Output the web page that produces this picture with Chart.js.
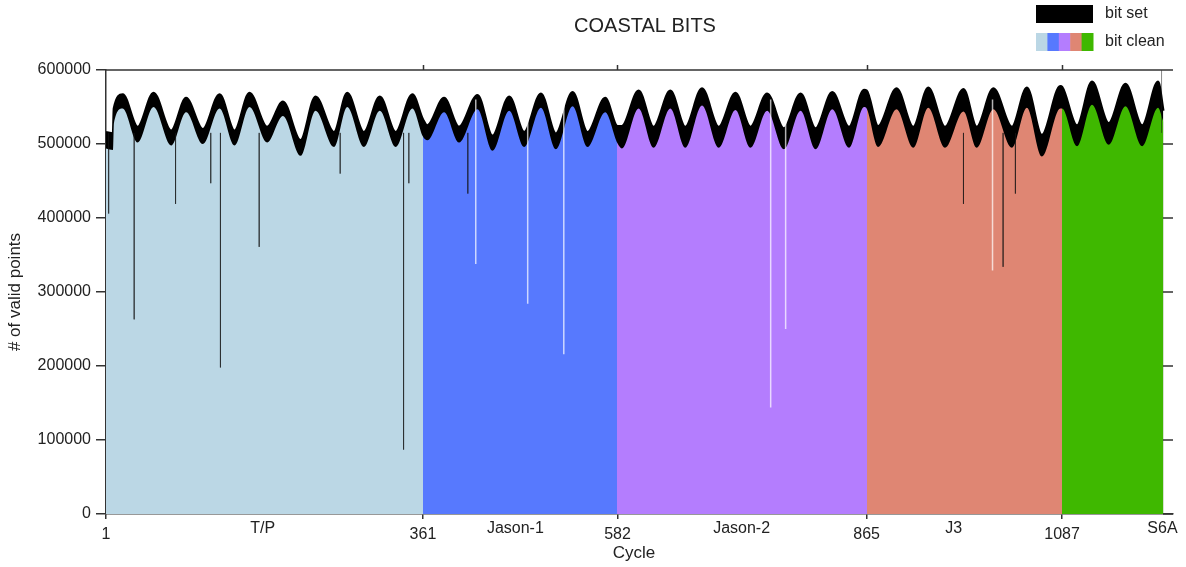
<!DOCTYPE html>
<html>
<head>
<meta charset="utf-8">
<title>COASTAL BITS</title>
<script src="https://cdn.jsdelivr.net/npm/chart.js@4.4.1/dist/chart.umd.min.js"></script>
<style>
  html, body { margin: 0; padding: 0; background: #fff; }
  #wrap { width: 1186px; height: 567px; }
</style>
</head>
<body>
<div id="wrap"><canvas id="bitsChart" width="1186" height="567"></canvas></div>
<script>
// values (peaks / troughs of the yearly cycle)
const cycles = [
  1, 9, 10, 20, 37, 55, 75, 92, 111, 130, 147, 164, 184, 202, 222, 239, 260, 275, 294, 312, 330, 349, 361,
  366, 385, 402, 423, 440, 459, 476, 495, 512, 531, 548, 568, 582,
  587, 606, 623, 642, 659, 678, 697, 716, 733, 752, 771, 790, 807, 826, 845, 862, 865,
  878, 899, 918, 935, 954, 975, 990, 1009, 1030, 1047, 1064, 1085, 1087,
  1104, 1121, 1140, 1159, 1178, 1196, 1202
];
// total valid points (top of the black "bit set" band)
const totalPoints = [
  516000, 514000, 548000, 567000, 523000, 569000, 518000, 562000, 520000, 567000, 518000, 569000, 523000, 557000, 505000, 564000, 516000, 569000, 516000, 564000, 516000, 567000, 533000,
  525000, 562000, 523000, 566000, 511000, 564000, 516000, 568000, 514000, 570000, 516000, 562000, 524000,
  524000, 572000, 523000, 572000, 523000, 575000, 523000, 569000, 523000, 568000, 521000, 568000, 521000, 570000, 523000, 573000, 572000,
  524000, 575000, 523000, 576000, 523000, 574000, 523000, 575000, 523000, 576000, 512000, 578000, 577000,
  525000, 584000, 528000, 581000, 525000, 584000, 545000
];
// points with the coastal bit clean
const cleanPoints = [
  494000, 492000, 528000, 548000, 502000, 550000, 498000, 543000, 500000, 548000, 498000, 550000, 502000, 538000, 484000, 545000, 496000, 550000, 496000, 545000, 496000, 548000, 510000,
  505000, 543000, 502000, 547000, 491000, 545000, 496000, 549000, 493000, 551000, 496000, 543000, 501000,
  494000, 548000, 495000, 548000, 495000, 552000, 495000, 546000, 495000, 545000, 493000, 545000, 493000, 547000, 495000, 550000, 548000,
  496000, 547000, 495000, 549000, 495000, 544000, 495000, 547000, 495000, 549000, 483000, 548000, 548000,
  497000, 553000, 499000, 551000, 497000, 549000, 530000
];

const missionNames = ['T/P', 'Jason-1', 'Jason-2', 'J3', 'S6A'];
const missionStart = [1, 361, 582, 865, 1087];
const missionEnd = [361, 582, 865, 1087, 1202];
const missionLabelAt = [179, 466, 723, 964, 1201];
const missionColors = ['#bbd7e5', '#5779fe', '#b47dfe', '#df8673', '#3fb800'];

const cycleTicks = [1, 361, 582, 865, 1087];
const yTicks = [0, 100000, 200000, 300000, 400000, 500000, 600000];

// single cycles with a drop (dark = clean drops, light = total drops)
const dipCycles = [4, 33, 80, 120, 131, 175, 267, 339, 345, 412, 421, 480, 521, 756, 773, 975, 1008, 1020, 1034, 1200];
const dipLows = [406000, 263000, 419000, 447000, 198000, 361000, 460000, 87000, 447000, 433000, 338000, 284000, 216000, 144000, 250000, 419000, 329000, 334000, 433000, 600000];
const dipLight = [false, false, false, false, false, false, false, false, false, false, true, true, true, true, true, false, true, false, false, false];

const FONT = '"Liberation Sans", Arial, Helvetica, sans-serif';

function dipPoints(light) {
  const pts = [];
  dipCycles.forEach((c, i) => {
    if (dipLight[i] !== light) return;
    pts.push({ x: c, y: light ? 560000 : 515000 }, { x: c, y: dipLows[i] }, { x: c, y: null });
  });
  return pts;
}

// one fill for all missions, coloured by a gradient with hard stops at the hand-overs
function missionFill(context) {
  const chart = context.chart;
  const area = chart.chartArea;
  if (!area || !chart.scales.x) return missionColors[0];
  const x = chart.scales.x;
  const g = chart.ctx.createLinearGradient(area.left, 0, area.right, 0);
  const frac = c => Math.min(1, Math.max(0, (x.getPixelForValue(c) - area.left) / (area.right - area.left)));
  missionColors.forEach((col, i) => {
    g.addColorStop(frac(missionStart[i]), col);
    g.addColorStop(frac(missionEnd[i]), col);
  });
  return g;
}

const datasets = [
  {
    label: 'dips dark', data: dipPoints(false), borderColor: 'rgba(20,20,20,0.5)',
    borderWidth: 1, fill: false, spanGaps: false, tension: 0
  },
  {
    label: 'dips light', data: dipPoints(true), borderColor: 'rgba(255,255,255,0.7)',
    borderWidth: 1.5, fill: false, spanGaps: false, tension: 0
  },
  {
    label: 'bit clean',
    data: cycles.map((c, i) => ({ x: c, y: cleanPoints[i] })),
    borderColor: 'rgba(0,0,0,0)',
    borderWidth: 0,
    backgroundColor: missionFill,
    fill: 'origin',
    cubicInterpolationMode: 'monotone'
  },
  {
    label: 'bit set',
    data: cycles.map((c, i) => ({ x: c, y: totalPoints[i] })),
    borderColor: '#000',
    borderWidth: 2.5,
    backgroundColor: '#000',
    fill: 'origin',
    cubicInterpolationMode: 'monotone'
  }
];

const decorations = {
  id: 'decorations',
  afterDraw(chart) {
    const { ctx, chartArea: a, scales: { x, y } } = chart;
    ctx.save();
    ctx.strokeStyle = '#333';
    ctx.lineWidth = 1.5;
    ctx.beginPath();
    ctx.moveTo(a.left, a.top);
    ctx.lineTo(a.right, a.top);
    cycleTicks.slice(1).forEach(c => {
      const px = Math.round(x.getPixelForValue(c)) + 0.5;
      ctx.moveTo(px, a.top);
      ctx.lineTo(px, a.top - 5);
    });
    yTicks.forEach(v => {
      const py = y.getPixelForValue(v);
      ctx.moveTo(a.right - 10, py);
      ctx.lineTo(a.right, py);
    });
    ctx.stroke();

    ctx.fillStyle = '#222';
    ctx.textAlign = 'center';
    ctx.textBaseline = 'middle';

    // title
    ctx.font = '20px ' + FONT;
    ctx.fillText('COASTAL BITS', 645, 26);

    // mission names under the axis
    ctx.font = '16px ' + FONT;
    missionNames.forEach((name, i) => {
      ctx.fillText(name, x.getPixelForValue(missionLabelAt[i]), 529);
    });

    // axis titles
    ctx.font = '17px ' + FONT;
    ctx.fillText('Cycle', 634, 553);
    ctx.save();
    ctx.translate(15, (a.top + a.bottom) / 2);
    ctx.rotate(-Math.PI / 2);
    ctx.fillText('# of valid points', 0, 0);
    ctx.restore();

    // legend
    ctx.fillStyle = '#000';
    ctx.fillRect(1036, 5, 57, 18);
    const w = 57 / missionColors.length;
    missionColors.forEach((col, i) => {
      ctx.fillStyle = col;
      ctx.fillRect(1036 + i * w, 33, w + 0.5, 18);
    });
    ctx.fillStyle = '#222';
    ctx.textAlign = 'left';
    ctx.font = '16px ' + FONT;
    ctx.fillText('bit set', 1105, 14);
    ctx.fillText('bit clean', 1105, 42);
    ctx.restore();
  }
};

new Chart(document.getElementById('bitsChart').getContext('2d'), {
  type: 'line',
  data: { datasets },
  options: {
    responsive: false,
    animation: false,
    layout: { padding: { top: 70, right: 13, left: 0, bottom: 0 } },
    elements: { point: { radius: 0 } },
    plugins: {
      legend: { display: false },
      tooltip: { enabled: false },
      title: { display: false }
    },
    scales: {
      x: {
        type: 'linear',
        min: 1,
        max: 1213,
        afterBuildTicks: s => { s.ticks = cycleTicks.map(v => ({ value: v })); },
        afterFit: s => { s.height = 53; },
        grid: { drawOnChartArea: false, tickLength: 5, color: '#333', lineWidth: 1.5 },
        border: { color: '#333', width: 1.5 },
        ticks: {
          autoSkip: false, maxRotation: 0, padding: 6, color: '#222',
          font: { size: 16, family: FONT },
          callback: v => String(v)
        }
      },
      y: {
        min: 0,
        max: 600000,
        afterBuildTicks: s => { s.ticks = yTicks.map(v => ({ value: v })); },
        afterFit: s => { s.width = 106; },
        grid: { drawOnChartArea: false, tickLength: 10, color: '#333', lineWidth: 1.5 },
        border: { color: '#333', width: 1.5 },
        ticks: {
          padding: 5, color: '#222',
          font: { size: 16, family: FONT },
          callback: v => String(v)
        }
      }
    }
  },
  plugins: [decorations]
});
</script>
</body>
</html>
